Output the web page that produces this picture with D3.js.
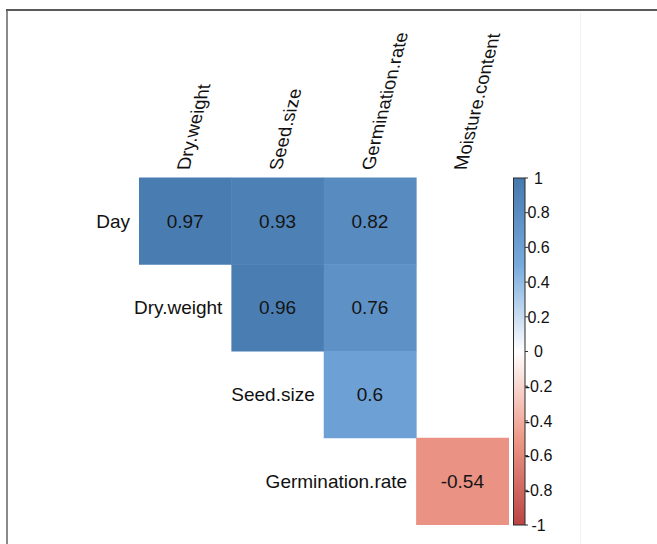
<!DOCTYPE html>
<html>
<head>
<meta charset="utf-8">
<script src="https://cdn.jsdelivr.net/npm/d3@7"></script>
<style>
  html, body { margin: 0; padding: 0; background: #fff; }
  svg { display: block; font-family: "Liberation Sans", Arial, sans-serif; }
</style>
</head>
<body>
<svg id="chart" width="657" height="544"></svg>
<script>
// Variables on the correlation matrix (upper triangle, diagonal omitted)
const rowNames = ["Day", "Dry.weight", "Seed.size", "Germination.rate"];
const colNames = ["Dry.weight", "Seed.size", "Germination.rate", "Moisture.content"];

// Correlation coefficients per row; null = not significant (left blank)
const dayRow = [0.97, 0.93, 0.82, null];
const dryWeightRow = [null, 0.96, 0.76, null];
const seedSizeRow = [null, null, 0.6, null];
const germinationRow = [null, null, null, -0.54];
const matrixRows = [dayRow, dryWeightRow, seedSizeRow, germinationRow];

// Colour legend
const legendTicks = [-1, -0.8, -0.6, -0.4, -0.2, 0, 0.2, 0.4, 0.6, 0.8, 1];
const legendLabels = ["-1", "-0.8", "-0.6", "-0.4", "-0.2", "0", "0.2", "0.4", "0.6", "0.8", "1"];
const paletteStops = [-1, -0.5, 0, 0.5, 1];
const paletteColors = ["#BB4444", "#EE9988", "#FFFFFF", "#77AADD", "#467AAF"];

const svg = d3.select("#chart");

// Page frame
svg.append("line").attr("x1", 7).attr("x2", 7).attr("y1", 9).attr("y2", 544)
  .attr("stroke", "#8a8a8a").attr("stroke-width", 2);
svg.append("line").attr("x1", 6).attr("x2", 657).attr("y1", 10).attr("y2", 10)
  .attr("stroke", "#5a5a5a").attr("stroke-width", 2);
svg.append("line").attr("x1", 580.5).attr("x2", 580.5).attr("y1", 11).attr("y2", 544)
  .attr("stroke", "#f3f3f3").attr("stroke-width", 1);

const color = d3.scaleLinear().domain(paletteStops).range(paletteColors);

const x = d3.scaleBand().domain(colNames).range([139, 508.5]).padding(0);
const y = d3.scaleBand().domain(rowNames).range([177.5, 524.5]).padding(0);

const cells = [];
matrixRows.forEach((vals, i) => {
  vals.forEach((v, j) => {
    if (v !== null) cells.push({ row: rowNames[i], col: colNames[j], value: v });
  });
});

const g = svg.append("g");

g.selectAll("rect.cell").data(cells).join("rect")
  .attr("class", "cell")
  .attr("x", d => x(d.col))
  .attr("y", d => y(d.row))
  .attr("width", x.bandwidth() + 0.5)
  .attr("height", y.bandwidth() + 0.5)
  .attr("fill", d => color(d.value));

g.selectAll("text.val").data(cells).join("text")
  .attr("class", "val")
  .attr("x", d => x(d.col) + x.bandwidth() / 2)
  .attr("y", d => y(d.row) + y.bandwidth() / 2)
  .attr("dy", "0.36em")
  .attr("text-anchor", "middle")
  .attr("font-size", 19)
  .attr("fill", "#151515")
  .text(d => d.value);

// Row labels sit just left of each row's first column on the triangle
g.selectAll("text.rowlab").data(rowNames).join("text")
  .attr("class", "rowlab")
  .attr("x", (d, i) => x(colNames[i]) - 9)
  .attr("y", d => y(d) + y.bandwidth() / 2)
  .attr("dy", "0.36em")
  .attr("text-anchor", "end")
  .attr("font-size", 19)
  .attr("fill", "#111")
  .text(d => d);

// Column labels, slanted above the grid
g.selectAll("text.collab").data(colNames).join("text")
  .attr("class", "collab")
  .attr("transform", d => `translate(${x(d) + x.bandwidth() / 2 + 4},170) skewX(-14) rotate(-90)`)
  .attr("text-anchor", "start")
  .attr("font-size", 18.5)
  .attr("fill", "#111")
  .text(d => d);

// Colour bar
const barX = 513.5, barW = 11.5;
const ly = d3.scaleLinear().domain([-1, 1]).range([525, 178]);

const defs = svg.append("defs");
const grad = defs.append("linearGradient").attr("id", "corrGrad")
  .attr("x1", 0).attr("x2", 0).attr("y1", 1).attr("y2", 0);
grad.selectAll("stop").data(paletteStops).join("stop")
  .attr("offset", d => (d + 1) / 2)
  .attr("stop-color", (d, i) => paletteColors[i]);

svg.append("rect")
  .attr("x", barX).attr("y", ly(1))
  .attr("width", barW).attr("height", ly(-1) - ly(1))
  .attr("fill", "url(#corrGrad)")
  .attr("stroke", "#2b2b2b").attr("stroke-width", 1);

const legend = svg.append("g");
legend.selectAll("line").data(legendTicks).join("line")
  .attr("x1", barX + barW).attr("x2", barX + barW + 3)
  .attr("y1", d => ly(d)).attr("y2", d => ly(d))
  .attr("stroke", "#333").attr("stroke-width", 1);
legend.selectAll("text").data(legendTicks).join("text")
  .attr("x", 538.5)
  .attr("y", d => ly(d))
  .attr("dy", "0.36em")
  .attr("text-anchor", "middle")
  .attr("font-size", 16)
  .attr("fill", "#111")
  .text((d, i) => legendLabels[i]);
</script>
</body>
</html>
